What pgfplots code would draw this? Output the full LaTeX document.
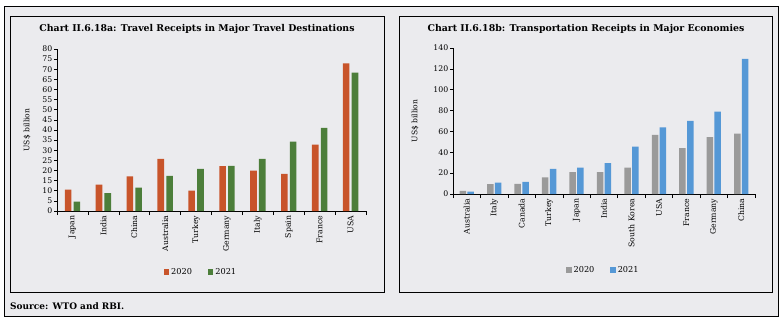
\documentclass[border=0pt]{standalone}
\usepackage{pgfplots}
\pgfplotsset{compat=1.18}
\usepackage{fontspec}
\setmainfont{DejaVu Serif}
\definecolor{bgc}{HTML}{EBEBEE}
\definecolor{c20a}{HTML}{C8542A}
\definecolor{c21a}{HTML}{4C7E3A}
\definecolor{c20b}{HTML}{9A9A9A}
\definecolor{c21b}{HTML}{5598D6}
\pgfplotsset{
  barbase/.style={
    scale only axis,
    axis x line*=bottom, axis y line*=left,
    axis line style={black, line width=0.6pt},
    tick align=outside,
    major tick length=3bp,
    minor tick length=4bp,
    major x tick style={draw=none},
    tick style={black, line width=0.6pt},
    ymin=0,
    /pgf/number format/assume math mode=true,
    tick label style={font=\fontsize{7.8}{8}\selectfont},
    xticklabel style={rotate=90, anchor=east, inner sep=1.5bp},
    yticklabel style={inner sep=1.5bp},
    ylabel style={font=\fontsize{7.6}{8}\selectfont, at={(rel axis cs:0,0.5)}, anchor=center},
    legend style={draw=none, fill=none, font=\fontsize{8.2}{9}\selectfont,
      legend columns=2, /tikz/every even column/.append style={column sep=14bp},
      inner sep=0pt},
    legend image code/.code={\fill[#1] (0bp,-2.7bp) rectangle (5.4bp,2.7bp);},
    clip=false,
  }
}
\begin{document}
\begin{tikzpicture}[x=1bp,y=1bp]
\path[use as bounding box] (0,0) rectangle (783,324);
\fill[white] (0,0) rectangle (783,324);
\draw[fill=bgc, line width=0.6pt] (4,8) rectangle (778,318);
\draw[line width=0.6pt] (10,32) rectangle (384,308);
\draw[line width=0.6pt] (399,32) rectangle (772,308);
\node[font=\bfseries\fontsize{9.4}{10}\selectfont] at (197,295) {Chart II.6.18a: Travel Receipts in Major Travel Destinations};
\node[font=\bfseries\fontsize{9.4}{10}\selectfont] at (586,295) {Chart II.6.18b: Transportation Receipts in Major Economies};
\node[anchor=west, inner sep=0pt, font=\bfseries\fontsize{9}{10}\selectfont] at (10,18) {Source: WTO and RBI.};

\begin{axis}[barbase,
  at={(57bp,113bp)}, anchor=south west,
  width=309bp, height=162bp,
  xmin=-0.5, xmax=9.5, ymax=80,
  ytick={0,5,...,80},
  xtick={0,...,9},
  xticklabels={Japan,India,China,Australia,Turkey,Germany,Italy,Spain,France,USA},
  minor xtick={-0.5,0.5,...,9.5},
  ylabel={US\$ billion},
  ylabel style={yshift=30bp},
  legend style={at={(0.466,-0.377)}, anchor=center},
]
\addplot[ybar, bar width=6.6bp, bar shift=-4.4bp, fill=c20a, draw=none] coordinates {
(0,10.5) (1,13.0) (2,17.1) (3,25.8) (4,10.1) (5,22.2) (6,19.9) (7,18.3) (8,32.8) (9,72.9)};
\addplot[ybar, bar width=6.6bp, bar shift=4.4bp, fill=c21a, draw=none] coordinates {
(0,4.6) (1,8.8) (2,11.5) (3,17.4) (4,20.8) (5,22.3) (6,25.8) (7,34.3) (8,41.1) (9,68.3)};
\legend{2020,2021}
\end{axis}

\begin{axis}[barbase,
  at={(453bp,130bp)}, anchor=south west,
  width=302bp, height=146bp,
  xmin=-0.5, xmax=10.5, ymax=140,
  ytick={0,20,...,140},
  xtick={0,...,10},
  xticklabels={Australia,Italy,Canada,Turkey,Japan,India,South Korea,USA,France,Germany,China},
  minor xtick={-0.5,0.5,...,10.5},
  ylabel={US\$ billion},
  ylabel style={yshift=38bp},
  legend style={at={(0.498,-0.52)}, anchor=center},
]
\addplot[ybar, bar width=6.5bp, bar shift=-3.9bp, fill=c20b, draw=none] coordinates {
(0,3.0) (1,9.5) (2,9.8) (3,16.0) (4,21.0) (5,21.0) (6,25.2) (7,56.8) (8,44.0) (9,54.5) (10,58.0)};
\addplot[ybar, bar width=6.5bp, bar shift=3.9bp, fill=c21b, draw=none] coordinates {
(0,2.2) (1,10.8) (2,11.6) (3,24.0) (4,25.3) (5,29.5) (6,45.5) (7,64.0) (8,70.0) (9,79.0) (10,129.5)};
\legend{2020,2021}
\end{axis}
\end{tikzpicture}
\end{document}
